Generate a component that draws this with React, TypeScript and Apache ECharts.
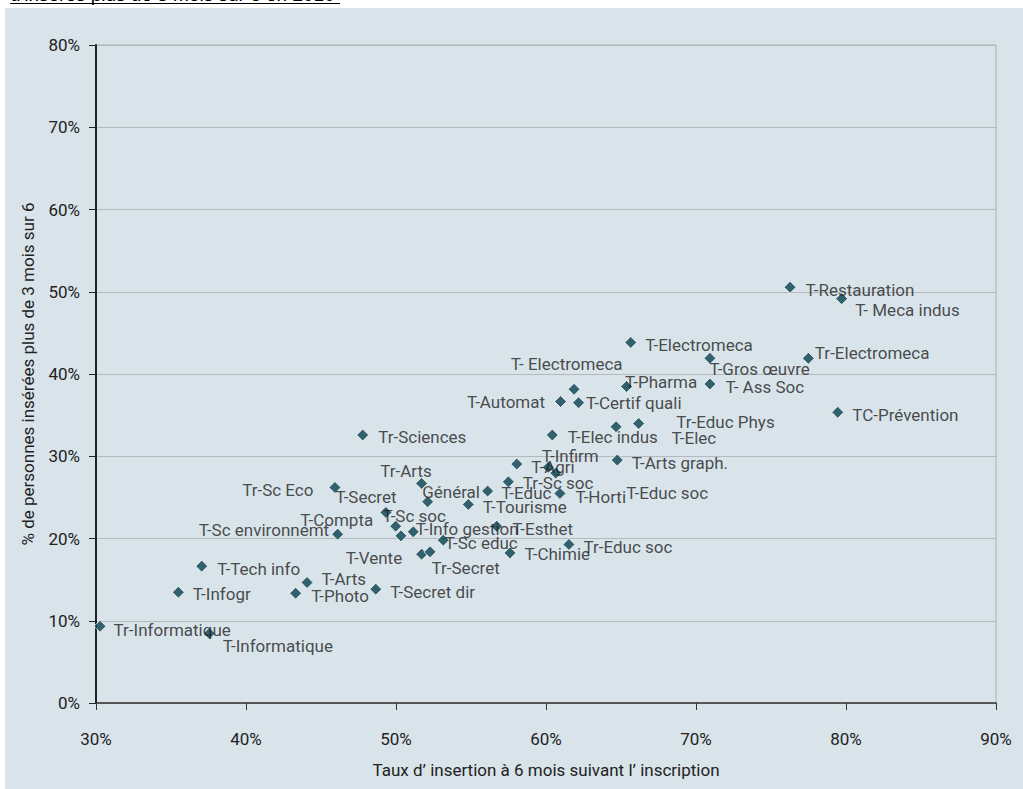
import React, { useEffect, useRef } from "react";
import * as echarts from "echarts";

const names: string[] = [
  "Tr-Informatique", "T-Informatique", "T-Infogr", "T-Tech info", "T-Arts", "T-Photo",
  "T-Secret dir", "T-Vente", "Tr-Secret", "T-Sc environnemt", "T-Secret", "T-Compta",
  "T-Sc soc", "T-Info gestion", "Tr-Sc Eco", "Tr-Arts", "Général", "Tr-Sciences",
  "T-Sc educ", "T-Tourisme", "T-Esthet", "T-Chimie", "Tr-Educ soc", "T-Educ",
  "Tr-Sc soc", "T-Agri", "T-Infirm", "T-Educ soc", "T-Horti", "T-Arts graph.",
  "T-Elec indus", "T-Elec", "Tr-Educ Phys", "T-Automat", "T-Certif quali", "T- Electromeca",
  "T-Pharma", "T-Electromeca", "T-Gros œuvre", "T- Ass Soc", "Tr-Electromeca", "TC-Prévention",
  "T-Restauration", "T- Meca indus",
];

// Taux d'insertion à 6 mois (%)
const insertion: number[] = [
  30.27, 37.55, 35.49, 37.05, 44.07, 43.31,
  48.65, 51.71, 52.27, 46.11, 49.33, 49.98,
  50.33, 51.15, 45.93, 51.71, 52.11, 47.78,
  53.15, 54.82, 56.71, 57.6, 61.53, 56.11,
  57.49, 58.05, 60.15, 60.65, 60.93, 64.75,
  60.42, 64.67, 66.18, 60.97, 62.17, 61.87,
  65.37, 65.65, 70.93, 70.93, 77.49, 79.45,
  76.27, 79.71,
];

// % de personnes insérées plus de 3 mois sur 6
const inseres: number[] = [
  9.33, 8.45, 13.47, 16.64, 14.65, 13.35,
  13.84, 18.1, 18.38, 20.53, 23.17, 21.5,
  20.32, 20.81, 26.21, 26.7, 24.46, 32.58,
  19.8, 24.14, 21.5, 18.25, 19.28, 25.76,
  26.89, 29.05, 28.65, 27.95, 25.48, 29.53,
  32.58, 33.59, 33.98, 36.65, 36.51, 38.14,
  38.48, 43.83, 41.91, 38.78, 41.91, 35.34,
  50.55, 49.16,
];

const xTicks = { min: 30, max: 90, interval: 10 };
const yTicks = { min: 0, max: 80, interval: 10 };

const titleText = "d'insérés plus de 3 mois sur 6 en 2010";
const xName = "Taux d\u2019 insertion à 6 mois suivant l\u2019 inscription";
const yName = "% de personnes insérées plus de 3 mois sur 6";

// label placement (offset from marker centre in px, alignment)
const labelPlacement: Record<string, [number, number, "left" | "right"]> = {
  "Tr-Informatique": [14, 4, "left"],
  "T-Informatique": [14, 13, "left"],
  "T-Infogr": [15, 2, "left"],
  "T-Tech info": [16, 3, "left"],
  "T-Arts": [15, -3, "left"],
  "T-Photo": [16, 3, "left"],
  "T-Secret dir": [15, 3, "left"],
  "T-Vente": [-19, 4, "right"],
  "Tr-Secret": [2, 17, "left"],
  "T-Sc environnemt": [-8, -4, "right"],
  "T-Secret": [-50, -15, "left"],
  "T-Compta": [-22, -6, "right"],
  "T-Sc soc": [-18, -19, "left"],
  "T-Info gestion": [3, -2, "left"],
  "Tr-Sc Eco": [-21, 3, "right"],
  "Tr-Arts": [-41, -12, "left"],
  "Général": [-5, -9, "left"],
  "Tr-Sciences": [16, 2, "left"],
  "T-Sc educ": [2, 3, "left"],
  "T-Tourisme": [15, 3, "left"],
  "T-Esthet": [16, 3, "left"],
  "T-Chimie": [15, 2, "left"],
  "Tr-Educ soc": [15, 3, "left"],
  "T-Educ": [14, 2, "left"],
  "Tr-Sc soc": [15, 2, "left"],
  "T-Agri": [15, 3, "left"],
  "T-Infirm": [-6, -11, "left"],
  "T-Educ soc": [71, 20, "left"],
  "T-Horti": [16, 4, "left"],
  "T-Arts graph.": [15, 3, "left"],
  "T-Elec indus": [16, 2, "left"],
  "T-Elec": [56, 12, "left"],
  "Tr-Educ Phys": [38, -1, "left"],
  "T-Automat": [-15, 1, "right"],
  "T-Certif quali": [8, 1, "left"],
  "T- Electromeca": [49, -25, "right"],
  "T-Pharma": [-1, -4, "left"],
  "T-Electromeca": [15, 3, "left"],
  "T-Gros œuvre": [0, 11, "left"],
  "T- Ass Soc": [16, 3, "left"],
  "Tr-Electromeca": [7, -5, "left"],
  "TC-Prévention": [15, 3, "left"],
  "T-Restauration": [16, 3, "left"],
  "T- Meca indus": [14, 12, "left"],
};

const FONT = "Roboto, 'Liberation Sans', sans-serif";
const FS = 17;
const PANEL = "#d8e4ea";
const MARKER = "#08404f";
const TEXT = "#222";
const SYMBOL = 12;

export default function App() {
  const ref = useRef<HTMLDivElement>(null);
  useEffect(() => {
    if (!ref.current) return;
    const chart = echarts.init(ref.current, undefined, { renderer: "svg" });
    const half = SYMBOL / 2;
    const data = names.map((n, i) => {
      const p = labelPlacement[n] || [14, 2, "left"];
      return {
        name: n,
        value: [insertion[i], inseres[i]],
        label: {
          show: true,
          position: [p[0] + half, p[1] + half],
          align: p[2],
          verticalAlign: "middle",
          formatter: n,
          color: TEXT,
          fontFamily: FONT,
          fontSize: FS,
          textBorderWidth: 0,
        },
      };
    });
    chart.setOption({
      animation: false,
      backgroundColor: "#ffffff",
      graphic: [
        {
          type: "rect",
          shape: { x: 5, y: 8, width: 1030, height: 790 },
          style: { fill: PANEL },
          z: -10,
          silent: true,
        },
        {
          type: "text",
          x: 10,
          y: 4,
          style: {
            text: titleText,
            fontFamily: "'Liberation Sans', Arial, sans-serif",
            fontSize: 19,
            fill: "#000",
            verticalAlign: "bottom",
          },
          silent: true,
        },
        {
          type: "line",
          shape: { x1: 10, y1: 3.5, x2: 340, y2: 3.5 },
          style: { stroke: "#000", lineWidth: 1 },
          silent: true,
        },
      ],
      grid: {
        left: 96,
        right: 27,
        top: 45,
        bottom: 86,
        show: true,
        backgroundColor: PANEL,
        borderColor: "#a9b0b4",
        borderWidth: 1,
      },
      xAxis: {
        type: "value",
        min: xTicks.min,
        max: xTicks.max,
        interval: xTicks.interval,
        name: xName,
        nameLocation: "middle",
        nameGap: 58,
        nameTextStyle: { color: TEXT, fontFamily: FONT, fontSize: FS },
        axisLine: { show: true, onZero: false, lineStyle: { color: "#333", width: 1.5 } },
        axisTick: { show: true, length: 7, lineStyle: { color: "#333" } },
        axisLabel: {
          formatter: "{value}%",
          margin: 27,
          color: TEXT,
          fontFamily: FONT,
          fontSize: FS,
        },
        splitLine: { show: false },
      },
      yAxis: {
        type: "value",
        min: yTicks.min,
        max: yTicks.max,
        interval: yTicks.interval,
        name: yName,
        nameLocation: "middle",
        nameGap: 60,
        nameTextStyle: { color: TEXT, fontFamily: FONT, fontSize: FS },
        axisLine: { show: true, onZero: false, lineStyle: { color: "#222", width: 2 } },
        axisTick: { show: true, length: 7, lineStyle: { color: "#222" } },
        axisLabel: {
          formatter: "{value}%",
          margin: 16,
          color: TEXT,
          fontFamily: FONT,
          fontSize: FS,
        },
        splitLine: { show: true, lineStyle: { color: "#b3b9bd", width: 1 } },
      },
      series: [
        {
          type: "scatter",
          symbol: "diamond",
          symbolSize: SYMBOL,
          itemStyle: { color: MARKER, borderColor: "#ffffff", borderWidth: 1 },
          data,
          labelLayout: { hideOverlap: false },
          emphasis: { disabled: true },
        },
      ],
    });
    return () => chart.dispose();
  }, []);
  return (
    <div
      ref={ref}
      style={{ position: "absolute", left: 0, top: 0, width: 1023, height: 789 }}
    />
  );
}
